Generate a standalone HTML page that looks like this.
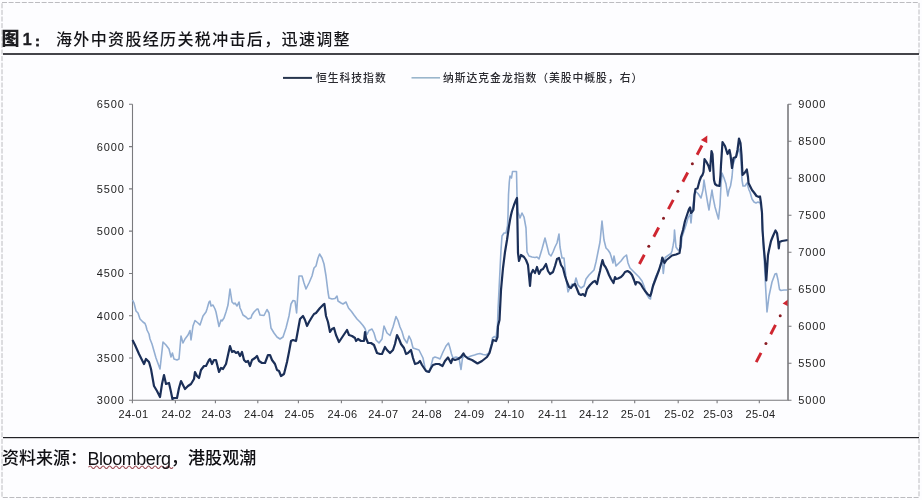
<!DOCTYPE html>
<html><head><meta charset="utf-8"><title>图1</title>
<style>
html,body{margin:0;padding:0;background:#fdfdff;}
body{width:922px;height:500px;position:relative;overflow:hidden;font-family:"Liberation Sans","Noto Sans CJK SC",sans-serif;color:#1e1e22;}
.chart{position:absolute;left:0;top:0;}
.title{position:absolute;top:28px;font-size:16px;line-height:22px;white-space:nowrap;}
.t1{left:2px;font-weight:700;}
.t2{left:56px;top:29px;letter-spacing:1.35px;font-weight:500;color:#141418;}
.legend{position:absolute;top:70.5px;font-size:10.8px;line-height:15px;white-space:nowrap;color:#2a2a30;letter-spacing:0.98px;font-weight:500;}
.src{position:absolute;top:447.3px;color:#101014;font-weight:500;font-size:17px;line-height:24px;white-space:nowrap;}
</style></head><body>
<svg class="chart" width="922" height="500" viewBox="0 0 922 500"><rect x="2" y="2.5" width="917" height="495" fill="none" stroke="#bcbcc0" stroke-width="1" stroke-dasharray="5 1.6"/><rect x="3" y="53" width="916" height="2" fill="#44444a"/><rect x="3" y="437" width="916" height="1.2" fill="#222226"/><path d="M132.5,104.3 V400.3 H788.0 V104.3" fill="none" stroke="#7a7a7e" stroke-width="1.1"/><path d="M129.0,400.30H132.5 M129.0,358.01H132.5 M129.0,315.73H132.5 M129.0,273.44H132.5 M129.0,231.16H132.5 M129.0,188.87H132.5 M129.0,146.59H132.5 M129.0,104.30H132.5 M788.0,400.30H791.5 M788.0,363.30H791.5 M788.0,326.30H791.5 M788.0,289.30H791.5 M788.0,252.30H791.5 M788.0,215.30H791.5 M788.0,178.30H791.5 M788.0,141.30H791.5 M788.0,104.30H791.5 M132.4,400.3V403.3 M175.4,400.3V403.3 M215.4,400.3V403.3 M257.8,400.3V403.3 M298.4,400.3V403.3 M341.4,400.3V403.3 M382.2,400.3V403.3 M425.7,400.3V403.3 M468.2,400.3V403.3 M508.4,400.3V403.3 M551.8,400.3V403.3 M592.8,400.3V403.3 M634.7,400.3V403.3 M678.2,400.3V403.3 M717.1,400.3V403.3 M759.3,400.3V403.3" fill="none" stroke="#7a7a7e" stroke-width="1.1"/><polyline points="132.5,300 134,303 136,311 138,313 140,319 142,321 143,322 145,323.5 146,326 147,330 149,334 150,339 152,344 156,358 160,369 163,342 166,345 169,349 171,357 172.4,353 174,359 177,360 179,359 181,336 183,343 185,339 188,335 190,330.5 191,340 193,326 195,320.5 198,323 200,325 203,316 206,312 207,309 209,302 210,301 211,306 213,305 215,309 216,312 219,326.5 221,320 222,321 224,318 226,312 228,305 230,289 232,302 234,304 235,303 237,306 238,304 239,302 240,308 241,310 243,315 246,317 248,319 251,318 252,315 254,312 255,311 257,309 258,309 260,315 264,315.5 267,309.5 269,313 271,328 274,333 277,337 280,339 283,337 284,334 286,328 288,320 289,316 291,304 293,300.5 295,301 296.6,313 299,276 302,276 304,283 306,289 309,283 312,276 314,268 316,266 318,258 319.6,254 322,258 324,264 326,276 328,292 329,298 332,299 335,298.5 337,296 338,301 341,303 343,304 346,302 348.5,308 351.5,311.5 354,315 357,319 360,322 363,325.5 365,328.5 367,334.5 369,330.5 372,329 374,333 376,340 379,343 382,339 384,326 387,333 390,335.5 393,327 396,316.5 398,320.5 400,327 402,331.5 404,338.5 407,343 409,336 411,340 413,348 416,349 419,350 421,354 423,358 425,368 427,372 430,370 433,358 435,357 438,358 440,359 443,352 446,346 448.5,343 450,348 451.5,354 453,358 456,357 459,358 461,369.5 462.5,358 464,356 467.5,357.5 471,356 474.5,355 477.5,354 480,353.5 483,354.5 486,355 489,353 491.5,344 492.5,338 494.5,336.5 496,338 497.5,325 498,310 500,270 501,250 502,236 504,233 506,233 507.5,226 508,215 508.5,195 509.3,182 510,176 511.5,178 512.5,171.5 516.5,171.5 517,195 518,212 520,218 522,213 524,217 526,228 527,252 529,256 532,257 535,257.5 537,257 539,259 542,249 545,238 547,246 549,254 551,256 553,252 555,247 557,243 559,234 560,247 562,258 564,258 566,278 568,292 570,288 572,284 574,286 576,278 578,285 581,288 584,286 586,279 589,275 592,272 594,270 596,262 598,252 600,242 602,221 604,240 606,248 608,250 610,253 611,256 613,263 614,256 616,266 618,264 621,261 624,257 626.5,255 628,263 630,268 633,271 636,274 639,277 642,281 644,286 646.5,294 649,298 650.5,299 651.5,292 653,285 656,276 659,270 661,263 662,258.5 663.3,273.5 665.2,257.5 668,255.5 671,253.5 672,251 673,246 674,240 674.5,230 676,247 678,250 680,250 681,247 682,237 686,225 688,218 690,214 691,223 692,212 694,198 695,191 698,193.5 701,198 703,190 704,180 705.5,190 707.5,202 709,210 710.5,199.5 712,190 713,197 715,207 717,214 718.5,219 720,205 721,185 722,173 724,178 726,184 727.8,196 729,190 730.5,186 732,177 733,165 734.5,160 737,155 738.5,150 739.5,149 741,161 742,180 743,186 745,186 747,183 749,190 750,192 752,199 754,202 756,203 758,202 760,203 761,206 762,213 763,240 764.5,265 765.5,285 767,312 769,296 772,282 775,274 776.5,273.5 778,280 779.5,289.5 781,290.5 784,290 787.5,290" fill="none" stroke="#93aed2" stroke-width="1.6" stroke-linejoin="round"/><polyline points="132.5,340 135,345 139,354 142,360 144,364 146,359 149,362 151,369 154,386 157,391 160,397 162,384 164,375 166,384 169,383 171,392 172.4,399 174,398 177,398 179,388 181,381 183,385 185,389 188,386 191,384 194,379 195,372 197,376 199,378 201,370 204,366 206,366 209,360 210,359 212,364 214,360 216,360 219,372 221,368 223,369 226,364 228,355 230,346 232,352 234,351 236,353 238,352 240,356 242,352 244,360 246,362 248,361 250,366 252,360 255,358 257,356 259,361 262,363 265,363 268,355 270,355 272,360 275,364 277,370 279,371 281,376 284,374 287,362 289,352 291,341 293,340 296,341 298,330 300,319 303,316 305,320 307,326 309,322 312,317 314,314 316,313 320,308 323,305 324.4,304 326,316 328,322 330,332 332,329 334,328 336,335 339,342 341,339 343,336 347,330 349,335 352,336 355,338 356,341 358,339 361,341 364,341 365,332 366,338 368,343 371,343 374,345 377,353 380,354 382,354 385,347 387,350 390,353 393,350 395,344 397,335 399,339 401,344 404,348 406,354 408,353 411,350 413,358 415,364 418,363 420,361 422,365 424,368 426,371 429,372 431,368 433,365 436,364 439,364 442.5,366 445,361 448,357.5 451,363 452.5,359 455,360 458,359 461,357 463.5,353.5 465,356 468,358.5 472,360 477.5,363.5 482,361 487,357 489.5,353 492,344 493,340 496,341 497.5,337 498,326 499.5,320 501,290 503,268 505,252 507,240 508,233 509,226 510,220 511,215 512,211 514,205 516,200 517,198 517.4,220 518,253 519,261 521,255 524,257 526,260 528,265 530,286 531,274 533,270 535,273 537,267 539,274 541,270 543,269 546,264 548,271 550,274 553,272 555,266 557,259 559,258 561,265 563,268 565,276 567,282 569,287 571,288 573,285 575,284 577,289 579,294 581,295 583,294 585,296 587,289 590,285 593,282 595,281 597,284 599,275 600,271 601,266 602.5,260 604,265 605.5,267 607,270 609,275 611,279 613.5,283 615,277 616,279 618,278.5 621,277 623,275 625,272 627.5,271 630,272.5 632,275 634,280 635.5,284.5 636.5,282 639,282.5 641,284.5 643,288 645,291 647.5,294 650,296 651,294 653,286 656,278 659,270 661.5,262 662.3,257.5 664.5,263 666.5,260 669,258 672,255.5 676,254.5 679.5,253 680.5,246 681,237 683,230 685,221 687,215 689,209 690,207.5 691,213 692.5,211.5 693.5,210 694.5,195 695.5,189 697.5,188.5 699.5,181 701,177 702.5,175 703.5,172 704.5,159 706.5,162 708.5,166 710,171 711.5,151 712.5,154 713.5,172 714,180 715,184 717,185.5 719.5,186 720.5,175 721,165 722.5,142 725,146 727.5,154 729.5,150 730.5,155 732,168 733.5,158 736,157 737.5,150 739,138.5 740.5,143 741.5,155 742.5,175 744.5,173 746.8,169.5 748,177 748.5,183 750,186 752,190 754,192.5 756.5,196 759,197 760,196.5 761,203 762,213 762.5,230 764,250 765,260 766.3,280.5 768,255 769,250 771,241 773,236 775.5,230.5 777,233 778,240 778.8,248.5 779.5,242 782,241 785,240.5 788,240" fill="none" stroke="#1b2f58" stroke-width="2.2" stroke-linejoin="round"/><g font-family="Liberation Sans, sans-serif" font-size="11" fill="#222"><text x="96.8" y="404.3" letter-spacing="0.9">3000</text><text x="96.8" y="362.0" letter-spacing="0.9">3500</text><text x="96.8" y="319.7" letter-spacing="0.9">4000</text><text x="96.8" y="277.4" letter-spacing="0.9">4500</text><text x="96.8" y="235.2" letter-spacing="0.9">5000</text><text x="96.8" y="192.9" letter-spacing="0.9">5500</text><text x="96.8" y="150.6" letter-spacing="0.9">6000</text><text x="96.8" y="108.3" letter-spacing="0.9">6500</text><text x="798.2" y="404.3" letter-spacing="0.9">5000</text><text x="798.2" y="367.3" letter-spacing="0.9">5500</text><text x="798.2" y="330.3" letter-spacing="0.9">6000</text><text x="798.2" y="293.3" letter-spacing="0.9">6500</text><text x="798.2" y="256.3" letter-spacing="0.9">7000</text><text x="798.2" y="219.3" letter-spacing="0.9">7500</text><text x="798.2" y="182.3" letter-spacing="0.9">8000</text><text x="798.2" y="145.3" letter-spacing="0.9">8500</text><text x="798.2" y="108.3" letter-spacing="0.9">9000</text><text x="118.5" y="418" letter-spacing="0.4">24-01</text><text x="161.5" y="418" letter-spacing="0.4">24-02</text><text x="201.5" y="418" letter-spacing="0.4">24-03</text><text x="243.9" y="418" letter-spacing="0.4">24-04</text><text x="284.5" y="418" letter-spacing="0.4">24-05</text><text x="327.5" y="418" letter-spacing="0.4">24-06</text><text x="368.3" y="418" letter-spacing="0.4">24-07</text><text x="411.8" y="418" letter-spacing="0.4">24-08</text><text x="454.3" y="418" letter-spacing="0.4">24-09</text><text x="494.5" y="418" letter-spacing="0.4">24-10</text><text x="537.9" y="418" letter-spacing="0.4">24-11</text><text x="578.9" y="418" letter-spacing="0.4">24-12</text><text x="620.8" y="418" letter-spacing="0.4">25-01</text><text x="664.3" y="418" letter-spacing="0.4">25-02</text><text x="703.2" y="418" letter-spacing="0.4">25-03</text><text x="745.4" y="418" letter-spacing="0.4">25-04</text></g><defs><clipPath id="pc"><rect x="0" y="0" width="788" height="500"/></clipPath></defs><line x1="639.40" y1="264.00" x2="644.30" y2="254.72" stroke="#cf2630" stroke-width="2.9"/><line x1="653.78" y1="236.77" x2="658.69" y2="227.48" stroke="#cf2630" stroke-width="2.9"/><line x1="668.36" y1="209.18" x2="673.26" y2="199.89" stroke="#cf2630" stroke-width="2.9"/><line x1="682.83" y1="181.77" x2="687.74" y2="172.48" stroke="#cf2630" stroke-width="2.9"/><line x1="697.08" y1="154.80" x2="701.98" y2="145.51" stroke="#cf2630" stroke-width="2.9"/><circle cx="648.79" cy="246.23" r="1.5" fill="#8a1c24"/><circle cx="663.50" cy="218.37" r="1.5" fill="#8a1c24"/><circle cx="677.84" cy="191.23" r="1.5" fill="#8a1c24"/><circle cx="692.36" cy="163.73" r="1.5" fill="#8a1c24"/><polygon points="707.31,135.43 707.22,143.30 700.86,139.94" fill="#cf2630"/><line x1="756.20" y1="362.20" x2="761.03" y2="352.88" stroke="#cf2630" stroke-width="2.9"/><line x1="770.69" y1="334.23" x2="775.52" y2="324.91" stroke="#cf2630" stroke-width="2.9"/><circle cx="765.91" cy="343.46" r="1.5" fill="#8a1c24"/><circle cx="780.21" cy="315.85" r="1.5" fill="#8a1c24"/><polygon points="789.00,298.89 788.97,306.76 782.58,303.45" fill="#cf2630" clip-path="url(#pc)"/><line x1="283" y1="77.9" x2="312" y2="77.9" stroke="#27354e" stroke-width="2"/><line x1="411.5" y1="77.8" x2="440" y2="77.8" stroke="#9ab6cc" stroke-width="1.6"/><path d="M88.5,467.2 q1.625,-2.5 3.25,0 q1.625,2.5 3.25,0 q1.625,-2.5 3.25,0 q1.625,2.5 3.25,0 q1.625,-2.5 3.25,0 q1.625,2.5 3.25,0 q1.625,-2.5 3.25,0 q1.625,2.5 3.25,0 q1.625,-2.5 3.25,0 q1.625,2.5 3.25,0 q1.625,-2.5 3.25,0 q1.625,2.5 3.25,0 q1.625,-2.5 3.25,0 q1.625,2.5 3.25,0 q1.625,-2.5 3.25,0 q1.625,2.5 3.25,0 q1.625,-2.5 3.25,0 q1.625,2.5 3.25,0 q1.625,-2.5 3.25,0 q1.625,2.5 3.25,0 q1.625,-2.5 3.25,0 q1.625,2.5 3.25,0 q1.625,-2.5 3.25,0 q1.625,2.5 3.25,0 q1.625,-2.5 3.25,0 q1.625,2.5 3.25,0" fill="none" stroke="#9a4a52" stroke-width="1.1"/><path d="M788.0,104.3 V400.3" fill="none" stroke="#7a7a7e" stroke-width="1.1"/></svg>
<div class="title t1" style="left:1.5px;font-size:18px;top:28px;font-weight:900">图</div><div class="title t1" style="left:22.8px;top:29px;-webkit-text-stroke:0.4px #1e1e22">1</div><div class="title t1" style="left:35.5px;top:35px;font-size:12px;line-height:14px;-webkit-text-stroke:0.9px #1e1e22">:</div><div class="title t2">海外中资股经历关税冲击后，迅速调整</div>
<div class="legend" style="left:316px">恒生科技指数</div>
<div class="legend" style="left:443px">纳斯达克金龙指数（美股中概股，右）</div>
<div class="src" style="left:2px">资料来源：</div><div class="src" style="left:87.5px;font-size:18px;letter-spacing:-0.45px;top:446.6px;font-weight:400">Bloomberg</div><div class="src" style="left:171px">，</div><div class="src" style="left:188px;letter-spacing:0.1px">港股观潮</div>
</body></html>
